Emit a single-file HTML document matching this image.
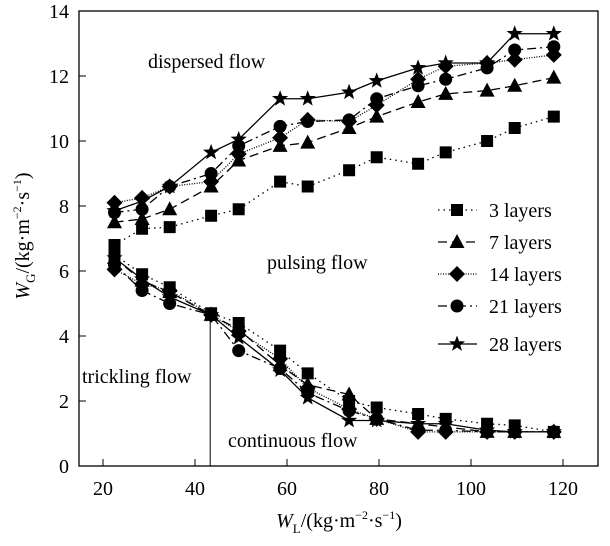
<!DOCTYPE html>
<html><head><meta charset="utf-8"><style>
body{margin:0;background:#fff}
svg text{font-family:"Liberation Serif","Times New Roman",Times,"Nimbus Roman","FreeSerif","DejaVu Serif",serif;fill:#000}
</style></head><body>
<svg id="c" width="610" height="541" xmlns="http://www.w3.org/2000/svg"></svg>
<script>
const xVals=[22.5,28.5,34.5,43.5,49.5,58.5,64.5,73.5,79.5,88.5,94.5,103.5,109.5,118];
const seriesNames=["3 layers","7 layers","14 layers","21 layers","28 layers"];
const upper3=[6.8,7.3,7.35,7.7,7.9,8.75,8.6,9.1,9.5,9.3,9.65,10.0,10.4,10.75];
const upper7=[7.5,7.6,7.9,8.6,9.4,9.85,9.95,10.4,10.75,11.2,11.45,11.55,11.7,11.95];
const upper14=[8.1,8.25,8.6,8.75,9.6,10.1,10.65,10.6,11.1,11.9,12.3,12.4,12.5,12.65];
const upper21=[7.8,7.9,8.6,9.0,9.85,10.45,10.6,10.65,11.3,11.7,11.9,12.25,12.8,12.9];
const upper28=[7.85,8.15,8.6,9.65,10.05,11.3,11.3,11.5,11.85,12.25,12.4,12.4,13.3,13.3];
const lower3=[6.5,5.9,5.5,4.7,4.4,3.55,2.85,2.0,1.8,1.6,1.45,1.3,1.25,1.05];
const lower7=[6.4,5.7,5.35,4.65,4.2,3.1,2.5,2.2,1.45,1.3,1.2,1.05,1.05,1.05];
const lower14=[6.05,5.6,5.4,4.65,4.15,3.3,2.4,1.75,1.45,1.05,1.05,1.05,1.05,1.05];
const lower21=[6.2,5.4,5.0,4.65,3.55,3.0,2.25,1.7,1.45,1.1,1.1,1.05,1.05,1.05];
const lower28=[6.4,5.75,5.2,4.65,3.95,2.95,2.1,1.4,1.4,1.3,1.3,1.1,1.05,1.05];
const xTicks=[20,40,60,80,100,120];
const yTicks=[0,2,4,6,8,10,12,14];
const boundaryX=43.3, boundaryY=4.6;

const X=v=>103+(v-20)*4.6;
const Y=v=>466-v*32.5;
const L=79,R=598,T=11,B=466;
const svg=document.getElementById('c');
const NS="http://www.w3.org/2000/svg";
function mk(t,a,p){const e=document.createElementNS(NS,t);for(const k in a)e.setAttribute(k,a[k]);(p||svg).appendChild(e);return e;}

let e=mk('rect',{x:L,y:T,width:R-L,height:B-T,fill:'none',stroke:'#000','stroke-width':1.3});


xTicks.forEach(t=>{
  let l=mk('line',{x1:X(t),x2:X(t),y1:B,y2:B-7,stroke:'#000'});
  
  
  let tx=mk('text',{x:X(t),y:B+29,'text-anchor':'middle','font-size':20});tx.textContent=t;
  
  
});
yTicks.forEach(t=>{
  let l=mk('line',{x1:L,x2:L+7,y1:Y(t),y2:Y(t),stroke:'#000'});
  
  
  let tx=mk('text',{x:L-10,y:Y(t)+7,'text-anchor':'end','font-size':20});tx.textContent=t;
  
  
});
let bl=mk('line',{x1:X(boundaryX),x2:X(boundaryX),y1:B,y2:Y(boundaryY),stroke:'#000'});



const dashes=["1.5,4","9,5","1,1.5","9,4,2,4",""];
const markers=["square","triangle","diamond","circle","star"];
function marker(type,x,y){
  let m;
  if(type==="square")m=mk('rect',{x:x-6,y:y-6,width:12,height:12});
  else if(type==="triangle")m=mk('polygon',{points:`${x},${y-8} ${x-7.5},${y+6} ${x+7.5},${y+6}`});
  else if(type==="diamond")m=mk('polygon',{points:`${x},${y-8} ${x+8},${y} ${x},${y+8} ${x-8},${y}`});
  else if(type==="circle")m=mk('circle',{cx:x,cy:y,r:6.5});
  else{let p=[];for(let i=0;i<10;i++){const r=i%2?3.5:8.5,a=-Math.PI/2+i*Math.PI/5;p.push((x+r*Math.cos(a)).toFixed(1)+','+(y+r*Math.sin(a)).toFixed(1));}m=mk('polygon',{points:p.join(' ')});}
  m.setAttribute('fill','#000');
  return m;
}
const upper=[upper3,upper7,upper14,upper21,upper28];
const lower=[lower3,lower7,lower14,lower21,lower28];
[upper,lower].forEach((grp,gi)=>{
  grp.forEach((ys,si)=>{
    let d=ys.map((v,i)=>(i?'L':'M')+X(xVals[i])+','+Y(v)).join(' ');
    let p=mk('path',{d:d,fill:'none',stroke:'#000','stroke-width':1.3,'stroke-dasharray':dashes[si]});
    
    
  });
});
[upper,lower].forEach((grp,gi)=>{
  grp.forEach((ys,si)=>{
    ys.forEach((v,i)=>{
      let m=marker(markers[si],X(xVals[i]),Y(v));
      
      
    });
  });
});
const legY=[210,242,274,306,344];
seriesNames.forEach((n,i)=>{
  let l=mk('line',{x1:438,x2:477,y1:legY[i],y2:legY[i],stroke:'#000','stroke-width':1.3,'stroke-dasharray':dashes[i]});
  
  
  let m=marker(markers[i],457,legY[i]);
  
  
  let t=mk('text',{x:489,y:legY[i]+7,'font-size':20});t.textContent=n;
  
  
});
function lab(txt,x,y,name){let t=mk('text',{x:x,y:y,'font-size':20});t.textContent=txt;
  
  }
lab('dispersed flow',148,68,'region-dispersed');
lab('pulsing flow',267,269,'region-pulsing');
lab('trickling flow',82,383,'region-trickling');
lab('continuous flow',228,447,'region-continuous');
let xt=mk('text',{x:339,y:527,'text-anchor':'middle','font-size':20});
xt.innerHTML='<tspan font-style="italic">W</tspan><tspan font-size="13" dy="6">L</tspan><tspan dy="-6">/(kg·m</tspan><tspan font-size="12" dy="-8">−2</tspan><tspan dy="8">·s</tspan><tspan font-size="12" dy="-8">−1</tspan><tspan dy="8">)</tspan>';


let yt=mk('text',{x:0,y:0,'text-anchor':'middle','font-size':20,transform:'translate(29,236) rotate(-90)'});
yt.innerHTML='<tspan font-style="italic">W</tspan><tspan font-size="13" dy="6">G</tspan><tspan dy="-6">/(kg·m</tspan><tspan font-size="12" dy="-8">−2</tspan><tspan dy="8">·s</tspan><tspan font-size="12" dy="-8">−1</tspan><tspan dy="8">)</tspan>';


</script>
</body></html>
